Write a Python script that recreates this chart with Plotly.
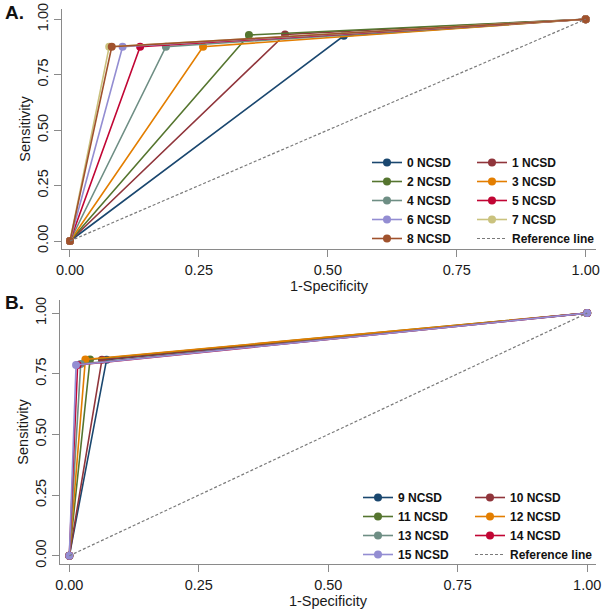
import plotly.graph_objects as go

W, H = 604, 610

# Panel A: cut-offs 0-8 NCSD
labels_a = ["0 NCSD", "1 NCSD", "2 NCSD", "3 NCSD", "4 NCSD", "5 NCSD", "6 NCSD", "7 NCSD", "8 NCSD"]
fpr_a = [0.531, 0.417, 0.347, 0.258, 0.186, 0.136, 0.102, 0.076, 0.081]
tpr_a = [0.925, 0.931, 0.929, 0.876, 0.876, 0.876, 0.876, 0.876, 0.876]

# Panel B: cut-offs 9-15 NCSD
labels_b = ["9 NCSD", "10 NCSD", "11 NCSD", "12 NCSD", "13 NCSD", "14 NCSD", "15 NCSD"]
fpr_b = [0.072, 0.063, 0.040, 0.031, 0.022, 0.016, 0.013]
tpr_b = [0.808, 0.808, 0.809, 0.809, 0.790, 0.786, 0.786]

ref_x = [0, 1]
ref_y = [0, 1]

xticks = [0, 0.25, 0.5, 0.75, 1.0]
xtick_text = ["0.00", "0.25", "0.50", "0.75", "1.00"]
yticks = [0, 0.25, 0.5, 0.75, 1.0]
ytick_text = ["0.00", "0.25", "0.50", "0.75", "1.00"]

colors = ["#1a476f", "#90353b", "#55752f", "#e37e00", "#6e8e84",
          "#c10534", "#938dd2", "#cac27e", "#a0522d"]

fig = go.Figure()

for i, (lab, fx, ty) in enumerate(zip(labels_a, fpr_a, tpr_a)):
    fig.add_trace(go.Scatter(
        x=[0, fx, 1], y=[0, ty, 1], mode="lines+markers", name=lab,
        line=dict(color=colors[i], width=1.6),
        marker=dict(color=colors[i], size=8),
        xaxis="x", yaxis="y",
        legend="legend" if i % 2 == 0 else "legend2"))
fig.add_trace(go.Scatter(
    x=ref_x, y=ref_y, mode="lines", name="Reference line",
    line=dict(color="#7a7a7a", width=1.2, dash="3px,2px"),
    xaxis="x", yaxis="y", legend="legend2"))

for i, (lab, fx, ty) in enumerate(zip(labels_b, fpr_b, tpr_b)):
    fig.add_trace(go.Scatter(
        x=[0, fx, 1], y=[0, ty, 1], mode="lines+markers", name=lab,
        line=dict(color=colors[i], width=1.6),
        marker=dict(color=colors[i], size=8),
        xaxis="x2", yaxis="y2",
        legend="legend3" if i % 2 == 0 else "legend4"))
fig.add_trace(go.Scatter(
    x=ref_x, y=ref_y, mode="lines", name="Reference line",
    line=dict(color="#7a7a7a", width=1.2, dash="3px,2px"),
    xaxis="x2", yaxis="y2", legend="legend4"))

font_family = "Liberation Sans, Arial, sans-serif"
axis_common = dict(
    showgrid=False, zeroline=False, showline=True, linecolor="#8a8a8a",
    linewidth=1.3, ticks="outside", ticklen=7, tickcolor="#8a8a8a",
    tickwidth=1.3, tickfont=dict(size=14.5, color="#1a1a1a", family=font_family),
    mirror=False, automargin=False,
)

def px(v):
    return v / W

def py(v):
    return 1 - v / H

fig.update_layout(
    width=W, height=H, margin=dict(l=0, r=0, t=0, b=0, autoexpand=False),
    paper_bgcolor="white", plot_bgcolor="white",
    font=dict(family=font_family, color="#1a1a1a"),
    xaxis=dict(**axis_common, domain=[px(62), px(596)], range=[-0.0155, 1.02],
               tickvals=xticks, ticktext=xtick_text, anchor="y",
               title=dict(text="1-Specificity", font=dict(size=14.5), standoff=0)),
    yaxis=dict(**axis_common, domain=[py(249), py(9)], range=[-0.036, 1.046],
               tickvals=yticks, ticktext=ytick_text, tickangle=-90, anchor="x",
               title=dict(text="Sensitivity", font=dict(size=14.5), standoff=0)),
    xaxis2=dict(**axis_common, domain=[px(60), px(596)], range=[-0.018, 1.017],
                tickvals=xticks, ticktext=xtick_text, anchor="y2",
                title=dict(text="1-Specificity", font=dict(size=14.5), standoff=0)),
    yaxis2=dict(**axis_common, domain=[py(564), py(300)], range=[-0.034, 1.054],
                tickvals=yticks, ticktext=ytick_text, tickangle=-90, anchor="x2",
                title=dict(text="Sensitivity", font=dict(size=14.5), standoff=0)),
    showlegend=True,
)

leg_common = dict(bgcolor="rgba(0,0,0,0)", xanchor="left", yanchor="top",
                  tracegroupgap=0, itemwidth=30,
                  font=dict(size=12, family=font_family, color="#111", weight="bold"))
fig.update_layout(
    legend=dict(**leg_common, x=px(367), y=py(148)),
    legend2=dict(**leg_common, x=px(472), y=py(148)),
    legend3=dict(**leg_common, x=px(358), y=py(483)),
    legend4=dict(**leg_common, x=px(470), y=py(483)),
)

fig.add_annotation(text="<b>A.</b>", x=px(3), y=py(13), xref="paper", yref="paper",
                   xanchor="left", yanchor="middle", showarrow=False,
                   font=dict(size=19, color="#111", family=font_family))
fig.add_annotation(text="<b>B.</b>", x=px(3), y=py(302), xref="paper", yref="paper",
                   xanchor="left", yanchor="middle", showarrow=False,
                   font=dict(size=19, color="#111", family=font_family))

fig.write_html("out.html", config={"displayModeBar": False},
               post_script="document.body.style.margin='0';document.body.style.overflow='hidden';")
